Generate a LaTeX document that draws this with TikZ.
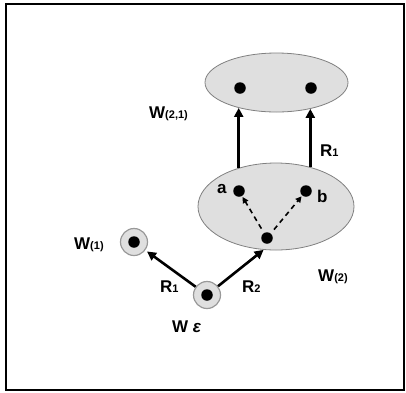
\documentclass[tikz,border=0pt]{standalone}
\usepackage{fontspec}
\setmainfont{Liberation Sans}
\usetikzlibrary{shapes.geometric,arrows.meta}
\newcommand{\lowidx}[1]{\raisebox{-0.6pt}{\fontsize{11}{11}\selectfont #1}}
\begin{document}
\begin{tikzpicture}[x=1pt,y=-1pt,
  world/.style={ellipse,draw=gray,fill=gray!25,line width=0.8pt,inner sep=0pt},
  dot/.style={circle,fill=black,inner sep=0pt,minimum size=11.5pt},
  ring/.style={circle,draw=gray!80,fill=gray!25,line width=1.2pt,inner sep=0pt,minimum size=27pt},
  lbl/.style={font=\fontsize{17}{17}\selectfont\bfseries,inner sep=0pt,anchor=base west},
  rel/.style={line width=2.6pt,-{Triangle[length=9pt,width=9pt]}},
  sub/.style={line width=1.6pt,dash pattern=on 5pt off 4pt,-{Triangle[length=6pt,width=6pt]},shorten <=5pt,shorten >=1pt}]
  % frame
  \draw[line width=2pt] (6,4) rectangle (404,390);
  \useasboundingbox (0,0) rectangle (406,392);

  % worlds
  \node[world,minimum width=143pt,minimum height=59pt] (e21) at (276.5,82.5) {};
  \node[world,minimum width=156pt,minimum height=87pt] (e2) at (276,206.5) {};
  \node[dot] (t1) at (240,88) {};
  \node[dot] (t2) at (311,88) {};
  \node[dot] (a) at (239,191) {};
  \node[dot] (b) at (306,191) {};
  \node[dot] (c) at (267,238) {};

  \node[ring] (w1) at (134,242) {};
  \node[dot] (w1d) at (134,242) {};
  \node[ring] (we) at (207,295) {};
  \node[dot] (wed) at (207,295) {};

  % relations
  \draw[rel] (e2.134) -- (e2.134 |- e21.214);
  \draw[rel] (e2.49) -- (e2.49 |- e21.322);
  \draw[rel,shorten >=2pt] (we) -- (w1);
  \draw[rel] (we) -- (e2.254);
  \draw[sub] (c) -- (a);
  \draw[sub] (c) -- (b);

  % labels
  \node[lbl] (l21) at (149,118) {W\lowidx{(2,1)}};
  \node[lbl] (lr1t) at (320,156) {R\lowidx{1}};
  \node[lbl] (la) at (217,193) {a};
  \node[lbl] (lb) at (317,202) {b};
  \node[lbl] (l1) at (74,249) {W\lowidx{(1)}};
  \node[lbl] (l2) at (318,281) {W\lowidx{(2)}};
  \node[lbl] (lr1) at (160,292) {R\lowidx{1}};
  \node[lbl] (lr2) at (242,292) {R\lowidx{2}};
  \node[lbl] (le) at (172,332) {W {\itshape ε}};
\end{tikzpicture}
\end{document}
